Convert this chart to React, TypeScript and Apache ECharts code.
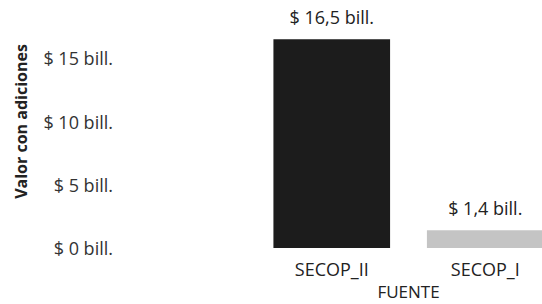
import React, { useEffect, useRef } from "react";
import * as echarts from "echarts";

const categories = ["SECOP_II", "SECOP_I"];
const values = [16.5, 1.4];
const barColors = ["#1c1c1c", "#c4c4c4"];
const yAxisName = "Valor con adiciones";
const xAxisName = "FUENTE";

const fmt = (v: number) => "$ " + String(v).replace(".", ",") + " bill.";

export default function App() {
  const ref = useRef<HTMLDivElement>(null);
  useEffect(() => {
    if (!ref.current) return;
    const chart = echarts.init(ref.current, null, { renderer: "svg" });
    const font = "Open Sans";
    chart.setOption({
      animation: false,
      grid: { left: 255, right: -20, top: -5, bottom: 56, outerBoundsMode: "none", containLabel: false },
      xAxis: {
        type: "category",
        data: categories,
        name: xAxisName,
        nameLocation: "middle",
        nameGap: 35,
        nameTextStyle: { fontFamily: font, fontSize: 17, color: "#222", verticalAlign: "top" },
        axisLine: { show: false },
        axisTick: { show: false },
        axisLabel: { margin: 12, fontFamily: font, fontSize: 18, color: "#222" },
      },
      yAxis: {
        type: "value",
        min: 0,
        max: 20,
        interval: 5,
        name: yAxisName,
        nameLocation: "middle",
        nameGap: 226,
        nameTextStyle: { fontFamily: font, fontSize: 16, fontWeight: "bold", color: "#222" },
        splitLine: { show: false },
        axisLine: { show: false },
        axisTick: { show: false },
        axisLabel: {
          margin: 142,
          showMaxLabel: false,
          fontFamily: font,
          fontSize: 18,
          color: "#333",
          formatter: (v: number) => fmt(v),
        },
      },
      series: [
        {
          type: "bar",
          barCategoryGap: "24%",
          data: values.map((v, i) => ({ value: v, itemStyle: { color: barColors[i] } })),
          label: {
            show: true,
            position: "top",
            distance: 13,
            fontFamily: font,
            fontSize: 18,
            color: "#222",
            formatter: (p: any) => fmt(p.value),
          },
        },
      ],
    });
    return () => chart.dispose();
  }, []);
  return (
    <div
      ref={ref}
      style={{ position: "fixed", left: 0, top: 0, width: 542, height: 304, background: "#fff" }}
    />
  );
}
